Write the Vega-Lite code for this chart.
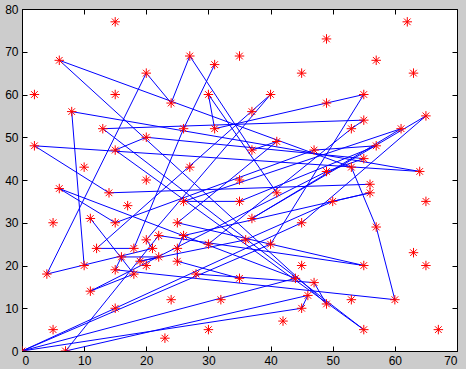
{
  "$schema": "https://vega.github.io/schema/vega-lite/v6.json",
  "autosize": "none",
  "width": 435,
  "height": 342,
  "padding": {"left": 22, "top": 9, "right": 9, "bottom": 18},
  "background": "#cccccc",
  "config": {
    "view": {"fill": "white", "stroke": "black", "strokeWidth": 1},
    "axis": {
      "grid": false,
      "domainColor": "black",
      "tickColor": "black",
      "tickSize": -5,
      "labelPadding": 9,
      "labelFont": "Liberation Sans",
      "labelFontSize": 12,
      "labelColor": "black",
      "title": null
    }
  },
  "datasets": {
    "pts": [
      {"x":15,"y":77},{"x":62,"y":77},{"x":49,"y":73},{"x":27,"y":69},{"x":35,"y":69},{"x":6,"y":68},{"x":57,"y":68},{"x":31,"y":67},{"x":20,"y":65},{"x":45,"y":65},{"x":63,"y":65},{"x":2,"y":60},{"x":15,"y":60},{"x":30,"y":60},{"x":40,"y":60},{"x":55,"y":60},{"x":24,"y":58},{"x":49,"y":58},{"x":8,"y":56},{"x":37,"y":56},{"x":65,"y":55},{"x":55,"y":54},{"x":13,"y":52},{"x":26,"y":52},{"x":31,"y":52},{"x":53,"y":52},{"x":61,"y":52},{"x":20,"y":50},{"x":41,"y":49},{"x":2,"y":48},{"x":57,"y":48},{"x":15,"y":47},{"x":37,"y":47},{"x":47,"y":47},{"x":55,"y":45},{"x":10,"y":43},{"x":27,"y":43},{"x":53,"y":43},{"x":49,"y":42},{"x":64,"y":42},{"x":20,"y":40},{"x":35,"y":40},{"x":56,"y":39},{"x":6,"y":38},{"x":14,"y":37},{"x":41,"y":37},{"x":56,"y":37},{"x":26,"y":35},{"x":35,"y":35},{"x":50,"y":35},{"x":65,"y":35},{"x":17,"y":34},{"x":11,"y":31},{"x":37,"y":31},{"x":5,"y":30},{"x":15,"y":30},{"x":25,"y":30},{"x":45,"y":30},{"x":57,"y":29},{"x":22,"y":27},{"x":26,"y":27},{"x":20,"y":26},{"x":36,"y":26},{"x":30,"y":25},{"x":40,"y":25},{"x":12,"y":24},{"x":18,"y":24},{"x":21,"y":24},{"x":25,"y":24},{"x":63,"y":23},{"x":16,"y":22},{"x":22,"y":22},{"x":19,"y":21},{"x":25,"y":21},{"x":10,"y":20},{"x":20,"y":20},{"x":45,"y":20},{"x":55,"y":20},{"x":65,"y":20},{"x":15,"y":19},{"x":4,"y":18},{"x":18,"y":18},{"x":28,"y":18},{"x":35,"y":17},{"x":44,"y":17},{"x":47,"y":16},{"x":11,"y":14},{"x":46,"y":13},{"x":24,"y":12},{"x":32,"y":12},{"x":53,"y":12},{"x":60,"y":12},{"x":49,"y":11},{"x":15,"y":10},{"x":45,"y":10},{"x":42,"y":7},{"x":5,"y":5},{"x":30,"y":5},{"x":55,"y":5},{"x":67,"y":5},{"x":23,"y":3},{"x":0,"y":0},{"x":7,"y":0}
    ],
    "path": [
      {"r":1,"o":1,"x":31,"y":67},{"r":1,"o":2,"x":26,"y":52},{"r":1,"o":3,"x":18,"y":24},{"r":1,"o":4,"x":12,"y":24},{"r":1,"o":5,"x":40,"y":60},{"r":1,"o":6,"x":20,"y":26},{"r":1,"o":7,"x":21,"y":24},{"r":1,"o":8,"x":4,"y":18},{"r":1,"o":9,"x":20,"y":65},{"r":1,"o":10,"x":24,"y":58},{"r":1,"o":11,"x":27,"y":69},{"r":1,"o":12,"x":37,"y":47},{"r":1,"o":13,"x":41,"y":49},{"r":1,"o":14,"x":25,"y":30},{"r":1,"o":15,"x":55,"y":20},{"r":1,"o":16,"x":22,"y":27},{"r":1,"o":17,"x":7,"y":0},{"r":1,"o":18,"x":46,"y":13},{"r":1,"o":19,"x":45,"y":10},{"r":1,"o":20,"x":0,"y":0},
      {"r":3,"o":1,"x":0,"y":0},{"r":3,"o":2,"x":15,"y":10},{"r":3,"o":3,"x":45,"y":30},{"r":3,"o":4,"x":65,"y":55},{"r":3,"o":5,"x":37,"y":31},{"r":3,"o":6,"x":61,"y":52},{"r":3,"o":7,"x":26,"y":35},{"r":3,"o":8,"x":35,"y":35},{"r":3,"o":9,"x":57,"y":48},{"r":3,"o":10,"x":47,"y":47},{"r":3,"o":11,"x":15,"y":30},{"r":3,"o":12,"x":6,"y":38},{"r":3,"o":13,"x":44,"y":17},{"r":3,"o":14,"x":0,"y":0},
      {"r":4,"o":1,"x":28,"y":18},{"r":4,"o":2,"x":47,"y":16},{"r":4,"o":3,"x":49,"y":11},{"r":4,"o":4,"x":6,"y":68},{"r":4,"o":5,"x":53,"y":43},{"r":4,"o":6,"x":57,"y":29},{"r":4,"o":7,"x":60,"y":12},{"r":4,"o":8,"x":15,"y":19},{"r":4,"o":9,"x":16,"y":22},{"r":4,"o":10,"x":22,"y":22},{"r":4,"o":11,"x":19,"y":21},{"r":4,"o":12,"x":36,"y":26},{"r":4,"o":13,"x":50,"y":35},{"r":4,"o":14,"x":56,"y":37},{"r":4,"o":15,"x":26,"y":27},{"r":4,"o":16,"x":25,"y":24},{"r":4,"o":17,"x":25,"y":21},{"r":4,"o":18,"x":35,"y":17},
      {"r":5,"o":1,"x":11,"y":31},{"r":5,"o":2,"x":18,"y":18},{"r":5,"o":3,"x":11,"y":14},{"r":5,"o":4,"x":49,"y":42},{"r":5,"o":5,"x":55,"y":45},{"r":5,"o":6,"x":20,"y":50},{"r":5,"o":7,"x":15,"y":47},{"r":5,"o":8,"x":55,"y":5},{"r":5,"o":9,"x":13,"y":52},{"r":5,"o":10,"x":55,"y":54},{"r":5,"o":11,"x":53,"y":52},{"r":5,"o":12,"x":30,"y":25},
      {"r":6,"o":1,"x":10,"y":20},{"r":6,"o":2,"x":8,"y":56},{"r":6,"o":3,"x":64,"y":42},{"r":6,"o":4,"x":2,"y":48},{"r":6,"o":5,"x":14,"y":37},{"r":6,"o":6,"x":56,"y":39},
      {"r":7,"o":1,"x":41,"y":37},{"r":7,"o":2,"x":30,"y":60},{"r":7,"o":3,"x":31,"y":52},{"r":7,"o":4,"x":49,"y":58},{"r":7,"o":5,"x":55,"y":60},{"r":7,"o":6,"x":40,"y":25},{"r":7,"o":7,"x":0,"y":0}
    ]
  },
  "layer": [
    {
      "data": {"name": "path"},
      "mark": {"type": "line", "color": "#0000ff", "strokeWidth": 1, "clip": true},
      "encoding": {
        "x": {"field": "x", "type": "quantitative", "scale": {"domain": [0, 70], "nice": false, "zero": false}, "axis": {"values": [0,10,20,30,40,50,60,70], "orient": "bottom"}},
        "y": {"field": "y", "type": "quantitative", "scale": {"domain": [0, 80], "nice": false, "zero": false}, "axis": {"values": [0,10,20,30,40,50,60,70,80], "orient": "left"}},
        "detail": {"field": "r", "type": "nominal"},
        "order": {"field": "o", "type": "quantitative"}
      }
    },
    {
      "data": {"name": "pts"},
      "mark": {"type": "point", "shape": "M0,-1L0,1M-1,0L1,0M-0.7,-0.7L0.7,0.7M-0.7,0.7L0.7,-0.7", "filled": false, "color": "#ff0000", "strokeWidth": 1, "size": 90, "opacity": 1, "clip": true},
      "encoding": {
        "x": {"field": "x", "type": "quantitative", "scale": {"domain": [0, 70], "nice": false, "zero": false}, "axis": {"values": [0,10,20,30,40,50,60,70], "orient": "top", "labels": false, "domain": false}},
        "y": {"field": "y", "type": "quantitative", "scale": {"domain": [0, 80], "nice": false, "zero": false}, "axis": {"values": [0,10,20,30,40,50,60,70,80], "orient": "right", "labels": false, "domain": false}}
      }
    }
  ],
  "resolve": {"scale": {"x": "independent", "y": "independent"}}
}
